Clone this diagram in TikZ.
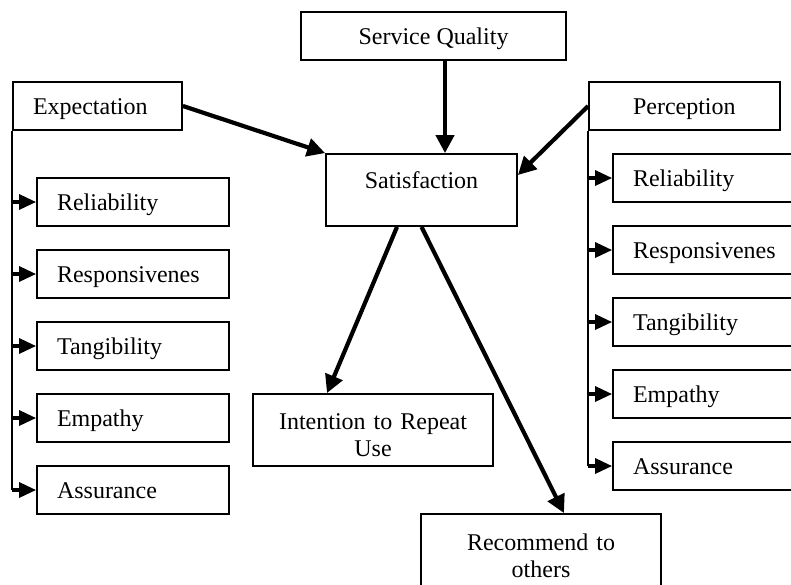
\documentclass[tikz,border=0pt]{standalone}
\usepackage{fontspec}
\setmainfont{Liberation Serif}
\usetikzlibrary{arrows.meta}
\tikzset{
    box/.style={draw, line width=0.9pt, inner sep=0pt, font=\fontsize{12}{13.5}\selectfont},
    oneline/.style={box, text height=9pt, text depth=1pt, minimum height=24pt},
    leftbox/.style={oneline, align=left, inner xsep=10pt, text width=#1},
    twoline/.style={box, align=center, minimum width=120pt, minimum height=36pt, text width=110pt, text depth=8pt},
    link/.style={-{Triangle[length=9pt, width=9pt]}, line width=2.1pt},
    feed/.style={-{Triangle[length=8.5pt, width=7.5pt]}, line width=1.6pt},
    trunk/.style={line width=1pt}
}
\begin{document}
\begin{tikzpicture}[x=0.5pt, y=-0.5pt]
            \useasboundingbox (0,0) rectangle (791,584);

            % Top and centre
            \node[oneline, minimum width=132.5pt] (sq) at (433.5,36) {Service Quality};
            \node[box, minimum width=95.5pt, minimum height=36pt, text height=9pt, text depth=11pt] (sat) at (421.5,190) {Satisfaction};

            % Expectation side
            \node[leftbox=64.5pt] (exp) at (97.5,106) {Expectation};
            \foreach \lbl [count=\i] in {Reliability, Responsivenes, Tangibility, Empathy, Assurance} {
                \node[leftbox=76pt] (e\i) at (133,130+72*\i) {\lbl};
            }
            \draw[trunk] (exp.south west) -- (exp.south west |- e5.west);
            \foreach \i in {1,...,5} {
                \draw[feed] (exp.south west |- e\i.west) -- (e\i.west);
            }

            % Perception side
            \node[leftbox=51.5pt, inner xsep=22pt] (per) at (684.5,106) {Perception};
            \foreach \lbl [count=\i] in {Reliability, Responsivenes, Tangibility, Empathy, Assurance} {
                \node[leftbox=75pt] (p\i) at (708,106+72*\i) {\lbl};
            }
            \draw[trunk] (per.south west) -- (per.south west |- p5.west);
            \foreach \i in {1,...,5} {
                \draw[feed] (per.south west |- p\i.west) -- (p\i.west);
            }

            % Outcomes
            \node[twoline] (intent) at (373,430) {Intention to Repeat\\Use};
            \node[twoline] (recom) at (541,550) {Recommend to\\others};

            % Links
            \draw[link] ([xshift=5.75pt]sq.south) -- ([xshift=5.75pt]sq.south |- sat.north);
            \draw[link] (exp.east) -- (sat.north west);
            \draw[link] (per.west) -- ([yshift=7.5pt]sat.east);
            \draw[link] ([xshift=-12.25pt]sat.south) -- ([xshift=-23pt]intent.north);
            \draw[link] (sat.south) -- ([xshift=11.5pt]recom.north);
        \end{tikzpicture}
\end{document}
